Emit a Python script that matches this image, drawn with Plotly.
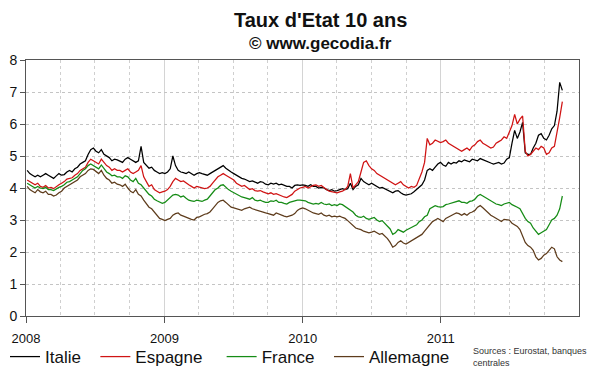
import pandas as pd
import plotly.graph_objects as go

# Weekly 10-year government bond yields (%), Fridays from 2008-01-04 to 2011-11-18
italie = [
    # 2008
    4.55, 4.45, 4.40, 4.35,  4.40, 4.35, 4.40, 4.45, 4.40,  4.35, 4.30, 4.38, 4.45,
    4.40, 4.42, 4.50, 4.55,  4.50, 4.60, 4.65, 4.75, 4.80,  4.85, 5.05, 5.20, 5.25,
    5.15, 5.10, 5.20, 5.05,  5.00, 4.95, 4.85, 4.90, 4.88,  4.85, 4.80, 4.90, 4.95,
    4.90, 4.85, 4.80, 4.85, 5.30,  4.80, 4.70, 4.62, 4.65,  4.55, 4.50, 4.45, 4.48,
    # 2009
    4.45, 4.50, 4.60, 5.00, 4.70,  4.55, 4.50, 4.48, 4.45,  4.50, 4.45, 4.40, 4.45,
    4.48, 4.45, 4.42, 4.40,  4.45, 4.50, 4.55, 4.60, 4.65,  4.70, 4.62, 4.55, 4.50,
    4.45, 4.40, 4.35, 4.30, 4.28,  4.25, 4.20, 4.22, 4.18,  4.15, 4.20, 4.18, 4.12,
    4.10, 4.15, 4.12, 4.15, 4.10,  4.12, 4.08, 4.05, 4.05,  4.00, 4.08, 4.10, 4.08,
    # 2010
    4.10, 4.08, 4.05, 4.10, 4.05,  4.05, 4.00, 4.02, 4.00,  3.95, 3.92, 3.95, 3.90,
    3.92, 3.95, 3.98, 3.95, 3.98,  4.15, 3.95, 4.05, 4.10,  4.30, 4.20, 4.15, 4.10,
    4.15, 4.10, 4.05, 4.00, 4.02,  3.98, 3.95, 3.90, 3.85,  3.90, 3.92, 3.85, 3.80,
    3.78, 3.80, 3.82, 3.88, 3.95,  4.05, 4.10, 4.25, 4.55,  4.60, 4.55, 4.65, 4.75, 4.80,
    # 2011
    4.72, 4.68, 4.80, 4.75,  4.80, 4.78, 4.85, 4.82,  4.88, 4.85, 4.82, 4.90,
    4.88, 4.85, 4.92, 4.88, 4.85,  4.80, 4.78, 4.75, 4.78,  4.80, 4.75, 4.78, 4.90,
    4.95, 5.40, 5.80, 5.55, 5.75,  6.05, 5.10, 5.05, 5.05,  5.25, 5.40, 5.65, 5.70, 5.55,
    5.50, 5.65, 5.85, 5.95,  6.40, 7.30, 7.05,
]

espagne = [
    # 2008
    4.25, 4.20, 4.15, 4.10,  4.15, 4.05, 4.02, 4.08, 4.00,  4.02, 3.98, 4.05, 4.10,
    4.15, 4.20, 4.28, 4.30,  4.32, 4.40, 4.45, 4.55, 4.60,  4.65, 4.80, 4.90, 4.85,
    4.80, 4.75, 4.90, 4.80,  4.70, 4.65, 4.55, 4.60, 4.55,  4.55, 4.50, 4.55, 4.60,
    4.50, 4.45, 4.50, 4.55, 4.70,  4.35, 4.20, 4.05, 4.10,  3.95, 3.90, 3.85, 3.88,
    # 2009
    3.90, 3.95, 4.05, 4.20, 4.30,  4.25, 4.20, 4.22, 4.15,  4.10, 4.05, 4.00, 4.05,
    4.02, 4.00, 3.98, 4.00,  4.05, 4.15, 4.25, 4.35, 4.40,  4.45, 4.40, 4.35, 4.30,
    4.25, 4.15, 4.10, 4.05, 4.08,  4.00, 3.95, 3.98, 3.92,  3.90, 3.92, 3.88, 3.85,
    3.82, 3.85, 3.80, 3.82, 3.78,  3.75, 3.72, 3.70, 3.75,  3.80, 3.90, 3.95, 4.00,
    # 2010
    4.02, 4.05, 4.00, 4.05, 4.08,  4.10, 4.05, 4.08, 4.00,  3.95, 3.90, 3.88, 3.85,
    3.85, 3.88, 3.90, 3.95, 4.05,  4.45, 4.00, 4.10, 4.20,  4.50, 4.80, 4.85, 4.70,
    4.60, 4.55, 4.45, 4.40, 4.35,  4.30, 4.25, 4.20, 4.15,  4.10, 4.15, 4.20, 4.10,
    4.05, 4.00, 4.05, 4.02, 4.08,  4.30, 4.50, 4.80, 5.55,  5.35, 5.40, 5.50, 5.45, 5.42,
    # 2011
    5.45, 5.50, 5.40, 5.35,  5.30, 5.25, 5.20, 5.15,  5.20, 5.25, 5.18, 5.30,
    5.35, 5.45, 5.50, 5.40, 5.35,  5.30, 5.25, 5.28, 5.40,  5.45, 5.50, 5.60, 5.55,
    5.75, 5.95, 6.30, 6.00, 6.15,  6.25, 5.15, 5.00, 5.05,  5.15, 5.25, 5.20, 5.30, 5.25,
    5.05, 5.10, 5.25, 5.30,  5.70, 6.20, 6.70,
]

france = [
    # 2008
    4.15, 4.10, 4.05, 4.00,  4.05, 4.00, 3.98, 4.02, 3.95,  3.95, 3.92, 3.98, 4.02,
    4.05, 4.10, 4.18, 4.20,  4.25, 4.30, 4.35, 4.45, 4.55,  4.60, 4.70, 4.75, 4.70,
    4.65, 4.60, 4.72, 4.60,  4.50, 4.45, 4.38, 4.40, 4.35,  4.35, 4.30, 4.38, 4.35,
    4.25, 4.20, 4.30, 4.15, 4.10,  4.00, 3.90, 3.80, 3.75,  3.65, 3.60, 3.55, 3.52,
    # 2009
    3.55, 3.62, 3.70, 3.78, 3.80,  3.78, 3.72, 3.75, 3.68,  3.62, 3.60, 3.58, 3.62,
    3.60, 3.58, 3.62, 3.65,  3.75, 3.85, 3.95, 4.00, 4.08,  4.10, 4.02, 3.95, 3.90,
    3.85, 3.80, 3.75, 3.72, 3.70,  3.68, 3.65, 3.70, 3.62,  3.60, 3.62, 3.58, 3.55,
    3.55, 3.60, 3.58, 3.62, 3.55,  3.55, 3.52, 3.50, 3.55,  3.58, 3.60, 3.62, 3.62,
    # 2010
    3.62, 3.60, 3.55, 3.52, 3.50,  3.52, 3.50, 3.55, 3.50,  3.48, 3.50, 3.45, 3.48,
    3.45, 3.50, 3.48, 3.42, 3.35,  3.30, 3.25, 3.15, 3.10,  3.08, 3.12, 3.05, 3.02,
    3.05, 3.08, 3.00, 2.95, 2.98,  2.90, 2.80, 2.72, 2.55,  2.60, 2.70, 2.65, 2.62,
    2.68, 2.72, 2.75, 2.80, 2.85,  2.95, 3.00, 3.10, 3.15,  3.35, 3.40, 3.45, 3.42, 3.40,
    # 2011
    3.42, 3.48, 3.50, 3.52,  3.55, 3.58, 3.60, 3.55,  3.55, 3.52, 3.58, 3.60,
    3.65, 3.75, 3.80, 3.75, 3.70,  3.65, 3.58, 3.55, 3.50,  3.48, 3.45, 3.50, 3.52,
    3.55, 3.48, 3.45, 3.40, 3.35,  3.20, 3.05, 2.95, 2.90,  2.75, 2.65, 2.55, 2.60, 2.65,
    2.70, 2.85, 3.00, 3.05,  3.15, 3.35, 3.75,
]

allemagne = [
    # 2008
    4.05, 3.95, 3.90, 3.85,  3.95, 3.88, 3.85, 3.90, 3.80,  3.80, 3.75, 3.78, 3.85,
    3.90, 4.00, 4.05, 4.10,  4.15, 4.20, 4.25, 4.35, 4.40,  4.45, 4.55, 4.60, 4.58,
    4.50, 4.45, 4.55, 4.40,  4.30, 4.25, 4.15, 4.18, 4.12,  4.10, 4.05, 4.12, 4.00,
    3.90, 3.85, 3.95, 3.80, 3.75,  3.62, 3.50, 3.40, 3.35,  3.25, 3.15, 3.05, 3.02,
    # 2009
    2.98, 3.02, 3.05, 3.15, 3.20,  3.22, 3.15, 3.12, 3.08,  3.05, 3.02, 3.00, 3.08,
    3.10, 3.15, 3.18, 3.20,  3.25, 3.35, 3.45, 3.55, 3.60,  3.62, 3.55, 3.48, 3.40,
    3.38, 3.35, 3.32, 3.30, 3.35,  3.38, 3.40, 3.35, 3.32,  3.30, 3.28, 3.25, 3.22,
    3.20, 3.18, 3.15, 3.22, 3.18,  3.15, 3.12, 3.10, 3.12,  3.15, 3.20, 3.30, 3.35,
    # 2010
    3.38, 3.35, 3.30, 3.25, 3.22,  3.20, 3.18, 3.22, 3.15,  3.12, 3.15, 3.10, 3.12,
    3.10, 3.12, 3.08, 3.05, 2.98,  2.90, 2.82, 2.75, 2.72,  2.70, 2.65, 2.62, 2.60,
    2.62, 2.65, 2.60, 2.55, 2.58,  2.50, 2.42, 2.30, 2.15,  2.20, 2.30, 2.35, 2.28,
    2.25, 2.30, 2.35, 2.40, 2.45,  2.50, 2.55, 2.65, 2.75,  2.85, 2.95, 3.00, 3.05, 3.00,
    # 2011
    2.95, 3.05, 3.10, 3.15,  3.18, 3.22, 3.20, 3.15,  3.20, 3.15, 3.22, 3.25,
    3.30, 3.40, 3.45, 3.38, 3.30,  3.25, 3.15, 3.10, 3.05,  3.00, 2.95, 3.02, 3.00,
    3.00, 2.90, 2.85, 2.80, 2.70,  2.50, 2.30, 2.20, 2.15,  2.05, 1.85, 1.75, 1.80, 1.90,
    1.95, 2.05, 2.15, 2.10,  1.85, 1.75, 1.70,
]

series_names = ["Italie", "Espagne", "France", "Allemagne"]
series_values = [italie, espagne, france, allemagne]
series_colors = ["#000000", "#d01414", "#168c16", "#5e3c1c"]
legend_pad = [2, 3, 2, 0]  # non-breaking spaces after each legend label

year_ticks = ["2008-01-01", "2009-01-01", "2010-01-01", "2011-01-01"]
year_labels = ["2008", "2009", "2010", "2011"]

fig = go.Figure()
for name, vals, col, pad in zip(series_names, series_values, series_colors, legend_pad):
    dates = pd.date_range("2008-01-04", periods=len(vals), freq="7D")
    fig.add_trace(go.Scatter(x=dates, y=vals, mode="lines", name=name + "\u00a0" * pad,
                             line=dict(color=col, width=1.25)))

font_family = "Liberation Sans, Arial, sans-serif"

# The page body adds an 8 px offset, so the figure is 592x364 and shifted accordingly
fig.update_layout(
    width=592, height=364,
    margin=dict(l=18, r=21, t=52, b=56, autoexpand=False),
    paper_bgcolor="white", plot_bgcolor="white",
    font=dict(family=font_family, color="#111111"),
    showlegend=True,
    legend=dict(orientation="h", xref="paper", yref="paper",
                x=-0.038, xanchor="left", y=-0.09, yanchor="top",
                font=dict(size=17, family=font_family, color="#111111"),
                itemwidth=30, bgcolor="rgba(0,0,0,0)"),
    annotations=[
        dict(text="<b>Taux d'Etat 10 ans</b>", xref="paper", yref="paper",
             x=0.532, y=1.0, yshift=40, xanchor="center", yanchor="middle",
             showarrow=False, font=dict(size=20, family=font_family, color="#111111")),
        dict(text="<b>© www.gecodia.fr</b>", xref="paper", yref="paper",
             x=0.532, y=1.0, yshift=17, xanchor="center", yanchor="middle",
             showarrow=False, font=dict(size=17, family=font_family, color="#111111")),
        dict(text="Sources : Eurostat, banques<br>centrales", xref="paper", yref="paper",
             x=0.805, y=-0.16, xanchor="left", yanchor="middle", align="left",
             showarrow=False, font=dict(size=9, family=font_family, color="#333333")),
    ],
)

fig.update_xaxes(
    type="date", range=["2008-01-01", "2012-01-01"],
    tickvals=year_ticks, ticktext=year_labels,
    ticks="outside", ticklen=6, tickcolor="#555555", ticklabelstandoff=4,
    tickfont=dict(size=13, family=font_family, color="#111111"),
    showline=True, linecolor="#555555", linewidth=1, mirror=True,
    showgrid=True, gridcolor="#d4d4d4", gridwidth=1,
    minor=dict(dtick="M3", tick0="2008-01-01", showgrid=True, gridcolor="#cfcfcf",
               griddash="dot", gridwidth=1),
    zeroline=False, automargin=False,
)
fig.update_yaxes(
    range=[0, 8], dtick=1, tick0=0,
    ticks="outside", ticklen=5, tickcolor="#555555", ticklabelstandoff=0,
    tickfont=dict(size=14, family=font_family, color="#111111"),
    showline=True, linecolor="#555555", linewidth=1, mirror=True,
    showgrid=True, gridcolor="#c4c4c4", griddash="dot", gridwidth=1,
    zeroline=False, automargin=False,
)

fig.write_html("out.html")
